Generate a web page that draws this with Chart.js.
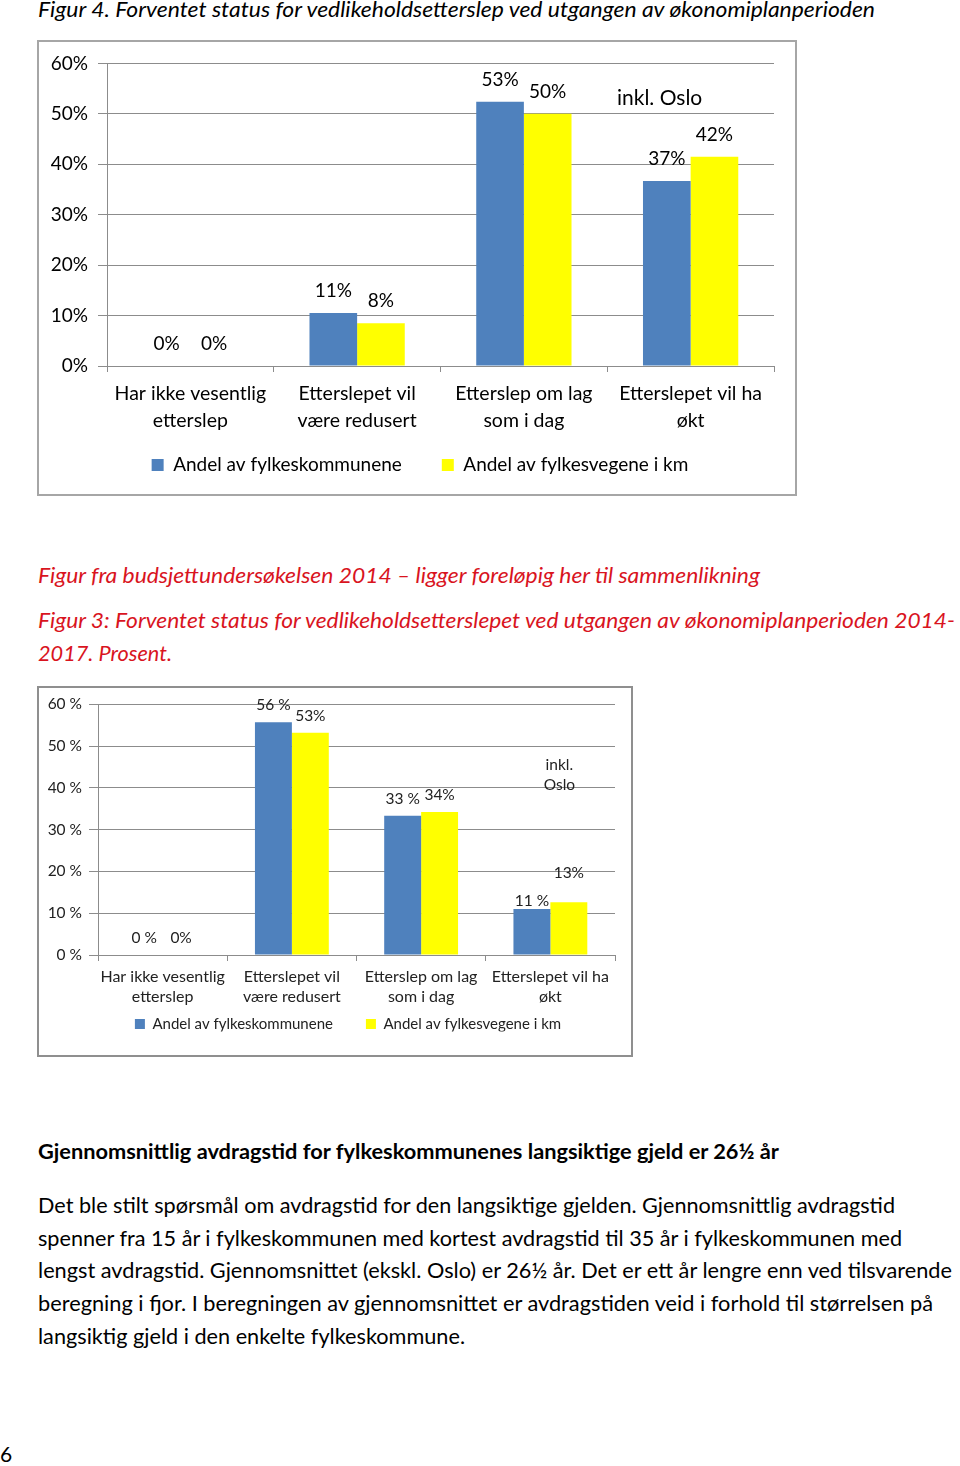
<!DOCTYPE html>
<html lang="no">
<head>
<meta charset="UTF-8">
<title>Figur 4 og Figur 3 – vedlikeholdsetterslep</title>
<script src="https://cdn.jsdelivr.net/npm/chart.js@4"></script>
<style>
  html, body { margin: 0; padding: 0; background: #fff; }
  body { position: relative; width: 960px; height: 1466px; overflow: hidden; font-family: Lato, sans-serif; color: #000; }
  .ln { position: absolute; left: 38px; white-space: nowrap; display: inline-block; font-size: 21px; line-height: 28px; transform-origin: 0 0; }
  .it { font-style: italic; }
  .red { color: #d9141e; }
  .b { font-weight: bold; }
  .box { position: absolute; left: 37px; border: 2px solid #a6a6a6; background: #fff; }
  .box canvas { display: block; }
</style>
</head>
<body>

<div class="ln it" style="top:-5px" data-w="837">Figur 4. Forventet status for vedlikeholdsetterslep ved utgangen av økonomiplanperioden</div>

<div class="box" style="top:40px;width:756px;height:452px"><canvas id="chart1" width="756" height="452"></canvas></div>

<div class="ln it red" style="top:561px" data-w="722">Figur fra budsjettundersøkelsen 2014 – ligger foreløpig her til sammenlikning</div>
<div class="ln it red" style="top:606px" data-w="917">Figur 3: Forventet status for vedlikeholdsetterslepet ved utgangen av økonomiplanperioden 2014-</div>
<div class="ln it red" style="top:639px" data-w="134">2017. Prosent.</div>

<div class="box" style="top:686px;width:592px;height:367px;border-color:#8f8f8f"><canvas id="chart2" width="592" height="367"></canvas></div>

<div class="ln b" style="top:1137px" data-w="741">Gjennomsnittlig avdragstid for fylkeskommunenes langsiktige gjeld er 26½ år</div>
<div class="ln" style="top:1191px" data-w="857">Det ble stilt spørsmål om avdragstid for den langsiktige gjelden. Gjennomsnittlig avdragstid</div>
<div class="ln" style="top:1224px" data-w="864">spenner fra 15 år i fylkeskommunen med kortest avdragstid til 35 år i fylkeskommunen med</div>
<div class="ln" style="top:1256px" data-w="914">lengst avdragstid. Gjennomsnittet (ekskl. Oslo) er 26½ år. Det er ett år lengre enn ved tilsvarende</div>
<div class="ln" style="top:1289px" data-w="895">beregning i fjor. I beregningen av gjennomsnittet er avdragstiden veid i forhold til størrelsen på</div>
<div class="ln" style="top:1322px" data-w="427">langsiktig gjeld i den enkelte fylkeskommune.</div>

<div class="ln" style="left:0;top:1440px">6</div>

<script>
// --- data ---
const categories = [
  ['Har ikke vesentlig', 'etterslep'],
  ['Etterslepet vil', 'være redusert'],
  ['Etterslep om lag', 'som i dag'],
  ['Etterslepet vil ha', 'økt']
];
const seriesNames = ['Andel av fylkeskommunene', 'Andel av fylkesvegene i km'];

// Figur 4 (2015)
const kommuner4 = [0, 10.5, 52.4, 36.7];
const veger4 = [0, 8.5, 50.0, 41.5];
const kommuner4Labels = ['0%', '11%', '53%', '37%'];
const veger4Labels = ['0%', '8%', '50%', '42%'];
const yTicks4 = ['0%', '10%', '20%', '30%', '40%', '50%', '60%'];

// Figur 3 (2014)
const kommuner3 = [0, 55.7, 33.3, 11.0];
const veger3 = [0, 53.2, 34.2, 12.6];
const kommuner3Labels = ['0 %', '56 %', '33 %', '11 %'];
const veger3Labels = ['0%', '53%', '34%', '13%'];
const yTicks3 = ['0 %', '10 %', '20 %', '30 %', '40 %', '50 %', '60 %'];

const BLUE = '#4f81bd';
const YELLOW = '#ffff00';
const GRID = '#8c8c8c';

// stretch each text line to the width it has in the original page
function fitLines() {
  document.querySelectorAll('.ln[data-w]').forEach(el => {
    el.style.transform = 'none';
    const nat = el.getBoundingClientRect().width;
    el.style.transform = 'scaleX(' + (+el.dataset.w / nat) + ')';
  });
}
fitLines();
if (document.fonts) document.fonts.ready.then(fitLines);

// value labels above bars + the "inkl. Oslo" note
const barLabels = {
  id: 'barLabels',
  afterDatasetsDraw(chart, args, opts) {
    const ctx = chart.ctx;
    ctx.save();
    ctx.font = opts.font;
    ctx.fillStyle = opts.color;
    ctx.textAlign = 'center';
    ctx.textBaseline = 'middle';
    chart.data.datasets.forEach((ds, di) => {
      chart.getDatasetMeta(di).data.forEach((bar, i) => {
        const nudge = (opts.nudge && opts.nudge[di + '-' + i]) || 0;
        ctx.fillText(ds.valueLabels[i], bar.x, bar.y - opts.offset + nudge);
      });
    });
    const xs = chart.scales.x, ys = chart.scales.y;
    ctx.font = opts.note.font;
    opts.note.lines.forEach(l => {
      ctx.fillText(l.text, xs.getPixelForValue(l.cat) + l.dx, ys.getPixelForValue(l.val));
    });
    ctx.restore();
  }
};

// move the legend row to where the original has it
const legendPlace = {
  id: 'legendPlace',
  afterLayout(chart, args, o) {
    const lg = chart.legend;
    lg.left += o.dx; lg.right += o.dx;
    lg.top += o.dy; lg.bottom += o.dy;
  }
};

function makeChart(id, s) {
  return new Chart(document.getElementById(id), {
    type: 'bar',
    data: {
      labels: categories,
      datasets: [
        { label: seriesNames[0], data: s.blue, valueLabels: s.blueLabels, backgroundColor: BLUE, borderWidth: 0 },
        { label: seriesNames[1], data: s.yellow, valueLabels: s.yellowLabels, backgroundColor: YELLOW, borderWidth: 0 }
      ]
    },
    options: {
      responsive: false,
      animation: false,
      events: [],
      categoryPercentage: 2 / 3.5,
      barPercentage: 1,
      layout: { padding: s.padding },
      scales: {
        x: {
          grid: { drawOnChartArea: false, color: GRID, tickLength: 6 },
          border: { color: GRID },
          ticks: { color: s.color, padding: s.xPad, maxRotation: 0, autoSkip: false,
                   font: { size: s.xFont, lineHeight: s.xLine } },
          afterFit: sc => { sc.height = s.xHeight; }
        },
        y: {
          min: 0, max: 60,
          grid: { color: GRID, tickLength: 9 },
          border: { color: GRID },
          ticks: { stepSize: 10, color: s.color, padding: s.yPad, font: { size: s.yFont },
                   callback: (v, i) => s.yTicks[i] },
          afterFit: sc => { sc.width = s.yWidth; }
        }
      },
      plugins: {
        legend: {
          position: 'bottom',
          maxHeight: s.legendHeight,
          labels: { color: s.color, boxWidth: s.box, boxHeight: s.box, padding: s.legendPad,
                    font: { size: s.legendFont } }
        },
        tooltip: { enabled: false },
        barLabels: s.labels,
        legendPlace: s.legendShift
      }
    },
    plugins: [barLabels, legendPlace]
  });
}

Chart.defaults.font.family = 'Lato, sans-serif';

makeChart('chart1', {
  blue: kommuner4, yellow: veger4, blueLabels: kommuner4Labels, yellowLabels: veger4Labels,
  yTicks: yTicks4, color: '#000',
  padding: { left: 0, right: 21, top: 21, bottom: 0 },
  yWidth: 68, yPad: 10, yFont: 19,
  xHeight: 68, xPad: 8, xFont: 19.5, xLine: 1.4,
  box: 12, legendPad: 40, legendFont: 19, legendHeight: 60,
  legendShift: { dx: 13.5, dy: -18.5 },
  labels: {
    font: '19px Lato, sans-serif', color: '#000', offset: 22,
    note: { font: '21px Lato, sans-serif', lines: [{ text: 'inkl. Oslo', cat: 3, dx: -31, val: 53.1 }] }
  }
});

makeChart('chart2', {
  blue: kommuner3, yellow: veger3, blueLabels: kommuner3Labels, yellowLabels: veger3Labels,
  yTicks: yTicks3, color: '#222',
  padding: { left: 0, right: 16, top: 16, bottom: 0 },
  yWidth: 59, yPad: 7, yFont: 15.5,
  xHeight: 52, xPad: 6, xFont: 16, xLine: 1.25,
  box: 10, legendPad: 33, legendFont: 15, legendHeight: 48,
  legendShift: { dx: 21, dy: -23.5 },
  labels: {
    font: '15.5px Lato, sans-serif', color: '#222', offset: 17,
    nudge: { '0-3': 9, '1-3': -12 },
    note: { font: '15.5px Lato, sans-serif', lines: [
      { text: 'inkl.', cat: 3, dx: 9, val: 45.5 },
      { text: 'Oslo', cat: 3, dx: 9, val: 40.7 }
    ] }
  }
});
</script>
</body>
</html>
